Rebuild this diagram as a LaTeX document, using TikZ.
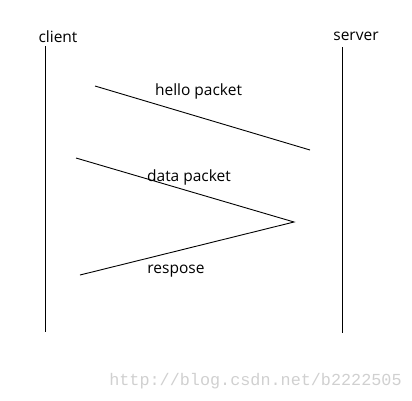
\documentclass[tikz,border=0pt]{standalone}
\usepackage{fontspec}
\setmainfont{Open Sans}
\newfontfamily\wmfont{Liberation Mono}
\begin{document}
\begin{tikzpicture}[x=1pt,y=-1pt,
  lbl/.style={anchor=base,inner sep=0pt,font=\fontsize{15.5}{18}\selectfont},
  msg/.style={draw=black,line width=0.9pt},
  life/.style={draw=black,line width=1pt}]
\useasboundingbox (0,0) rectangle (412,400);
\node[lbl] (client) at (58,42) {client};
\node[lbl] (server) at (356,40) {server};
\coordinate (c1) at (45,46);
\coordinate (c2) at (45,332);
\coordinate (s1) at (342,47);
\coordinate (s2) at (342,333);
\draw[life] (c1) -- (c2);
\draw[life] (s1) -- (s2);
\coordinate (h1) at (95,86);
\coordinate (h2) at (310,150);
\draw[msg] (h1) -- (h2);
\coordinate (d1) at (76,158);
\coordinate (d2) at (294,222);
\coordinate (r2) at (80,275);
\draw[msg] (d1) -- (d2) -- (r2);
\node[lbl] (hello) at (198.5,95) {hello packet};
\node[lbl] (data) at (189,181) {data packet};
\node[lbl] (resp) at (176,273) {respose};
\node[anchor=base,inner sep=0pt,text={rgb,255:red,208;green,208;blue,208},font=\wmfont\fontsize{16.8}{20}\selectfont] (wm) at (255.5,385) {http://blog.csdn.net/b2222505};
\end{tikzpicture}
\end{document}
